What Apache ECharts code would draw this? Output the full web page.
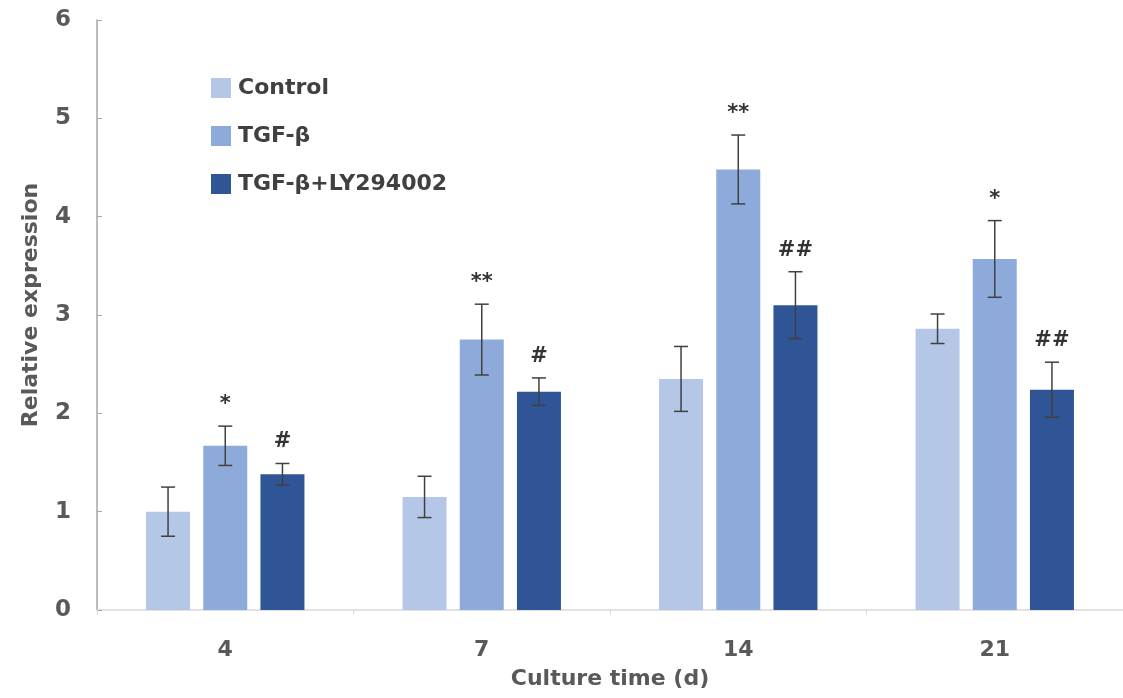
<!DOCTYPE html>
<html>
<head>
<meta charset="utf-8">
<script src="https://cdn.jsdelivr.net/npm/echarts@6/dist/echarts.min.js"></script>
<style>html,body{margin:0;padding:0;background:#fff;}#chart{width:1123px;height:698px;}</style>
</head>
<body>
<div id="chart"></div>
<script>
var categories = ['4', '7', '14', '21'];
var seriesNames = ['Control', 'TGF-β', 'TGF-β+LY294002'];
var controlValues = [1.00, 1.15, 2.35, 2.86];
var tgfValues = [1.67, 2.75, 4.48, 3.57];
var lyValues = [1.38, 2.22, 3.10, 2.24];
var controlErrors = [0.25, 0.21, 0.33, 0.15];
var tgfErrors = [0.20, 0.36, 0.35, 0.39];
var lyErrors = [0.11, 0.14, 0.34, 0.28];
var controlMarks = ['', '', '', ''];
var tgfMarks = ['*', '**', '**', '*'];
var lyMarks = ['#', '#', '##', '##'];

var colors = ['#b4c7e7', '#8eaadb', '#2f5597'];
var values = [controlValues, tgfValues, lyValues];
var errors = [controlErrors, tgfErrors, lyErrors];
var marks = [controlMarks, tgfMarks, lyMarks];
var BAR_W = 44, GAP_RATIO = 0.3;
var FONT = '"DejaVu Sans", sans-serif';

var series = [];
values.forEach(function (vals, s) {
  series.push({
    name: seriesNames[s], type: 'bar', data: vals,
    barWidth: BAR_W, barGap: (GAP_RATIO * 100) + '%',
    itemStyle: { color: colors[s] }
  });
});
values.forEach(function (vals, s) {
  var data = vals.map(function (v, i) { return [i, v, errors[s][i]]; });
  series.push({
    type: 'custom', name: seriesNames[s] + ' err', z: 10, silent: true,
    data: data,
    renderItem: function (params, api) {
      var i = api.value(0), v = api.value(1), e = api.value(2);
      var offset = (s - 1) * BAR_W * (1 + GAP_RATIO);
      var top = api.coord([i, v + e]);
      var bot = api.coord([i, v - e]);
      var x = top[0] + offset;
      var cap = 7;
      var st = { stroke: '#404040', lineWidth: 1.5 };
      var children = [
        { type: 'line', shape: { x1: x, y1: top[1], x2: x, y2: bot[1] }, style: st },
        { type: 'line', shape: { x1: x - cap, y1: top[1], x2: x + cap, y2: top[1] }, style: st },
        { type: 'line', shape: { x1: x - cap, y1: bot[1], x2: x + cap, y2: bot[1] }, style: st }
      ];
      var m = marks[s][i];
      if (m) {
        children.push({ type: 'text', style: { text: m, x: x, y: top[1] - 11, align: 'center', verticalAlign: 'bottom', fill: '#333', font: 'bold 21px ' + FONT } });
      }
      return { type: 'group', children: children };
    }
  });
});

var chart = echarts.init(document.getElementById('chart'));
chart.setOption({
  animation: false,
  backgroundColor: '#fff',
  grid: { left: 97, right: 0, top: 20, bottom: 88 },
  legend: {
    data: seriesNames, orient: 'vertical', left: 206, top: 72,
    itemWidth: 20, itemHeight: 20, itemGap: 26, icon: 'rect',
    textStyle: { fontFamily: FONT, fontWeight: 'bold', fontSize: 22, color: '#404040', padding: [0, 0, 0, 2] }
  },
  xAxis: {
    type: 'category', data: categories,
    name: 'Culture time (d)', nameLocation: 'middle', nameGap: 58,
    nameTextStyle: { fontFamily: FONT, fontWeight: 'bold', fontSize: 22, color: '#595959' },
    axisLine: { lineStyle: { color: '#d9d9d9', width: 1.5 } },
    axisTick: { show: true, length: 5, lineStyle: { color: '#d9d9d9' } },
    axisLabel: { margin: 29, fontFamily: FONT, fontWeight: 'bold', fontSize: 22, color: '#595959' }
  },
  yAxis: {
    type: 'value', min: 0, max: 6, interval: 1,
    name: 'Relative expression', nameLocation: 'middle', nameGap: 55, nameRotate: 90,
    nameTextStyle: { fontFamily: FONT, fontWeight: 'bold', fontSize: 22, color: '#595959', padding: [0, 0, 0, 20] },
    axisLine: { show: true, lineStyle: { color: '#a6a6a6', width: 1.5 } },
    axisTick: { show: true, inside: true, length: 5, lineStyle: { color: '#a6a6a6' } },
    splitLine: { show: false },
    axisLabel: { margin: 26, fontFamily: FONT, fontWeight: 'bold', fontSize: 23, color: '#595959' }
  },
  series: series
});
</script>
</body>
</html>
